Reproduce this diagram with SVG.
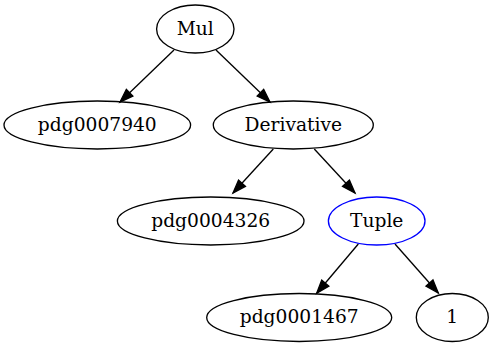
<svg xmlns="http://www.w3.org/2000/svg" width="494" height="347" viewBox="0 0 494 347">
<style>
  .node ellipse { fill: none; stroke: #000; stroke-width: 1.33; }
  .node.blue ellipse { stroke: #0000ff; }
  .node text { font-size: 18.67px; text-anchor: middle; fill: #000; }
  .edges line { stroke: #000; stroke-width: 1.33; marker-end: url(#arrow); }
</style>
<defs>
  <marker id="arrow" markerUnits="userSpaceOnUse" markerWidth="16" markerHeight="12" refX="13.3" refY="4.67" orient="auto" overflow="visible">
    <path d="M0,0 L13.3,4.67 L0,9.33 Z" fill="#000" stroke="#000" stroke-width="1.33"/>
  </marker>
</defs>
<rect width="494" height="347" fill="#fff"/>
<g class="edges" id="edges">
  <line x1="174" y1="50" x2="120" y2="102"/>
  <line x1="216" y1="50" x2="270" y2="102"/>
  <line x1="273.3" y1="149" x2="233" y2="193"/>
  <line x1="314.3" y1="149" x2="355" y2="193"/>
  <line x1="358.3" y1="244" x2="316.7" y2="293.3"/>
  <line x1="395" y1="244" x2="438.3" y2="293"/>
</g>
<g class="node" id="mul">
  <ellipse cx="195.3" cy="29" rx="38.7" ry="24"/>
  <text x="195.3" y="34.5" font-family="DejaVu Serif, serif">Mul</text>
</g>
<g class="node" id="pdg0007940">
  <ellipse cx="97.3" cy="125" rx="93.3" ry="24"/>
  <text x="97.3" y="130.5" font-family="DejaVu Serif, serif">pdg0007940</text>
</g>
<g class="node" id="derivative">
  <ellipse cx="293.3" cy="125" rx="80" ry="24"/>
  <text x="293.3" y="130.5" font-family="DejaVu Serif, serif">Derivative</text>
</g>
<g class="node" id="pdg0004326">
  <ellipse cx="210.7" cy="221" rx="93.3" ry="24"/>
  <text x="210.7" y="226.5" font-family="DejaVu Serif, serif">pdg0004326</text>
</g>
<g class="node blue" id="tuple">
  <ellipse cx="376.7" cy="221" rx="48.3" ry="24"/>
  <text x="376.7" y="226.5" font-family="DejaVu Serif, serif">Tuple</text>
</g>
<g class="node" id="pdg0001467">
  <ellipse cx="299.2" cy="317.5" rx="92.5" ry="24"/>
  <text x="299.2" y="323" font-family="DejaVu Serif, serif">pdg0001467</text>
</g>
<g class="node" id="one">
  <ellipse cx="452.3" cy="317.5" rx="36" ry="24"/>
  <text x="452.3" y="323" font-family="DejaVu Serif, serif">1</text>
</g>
</svg>
